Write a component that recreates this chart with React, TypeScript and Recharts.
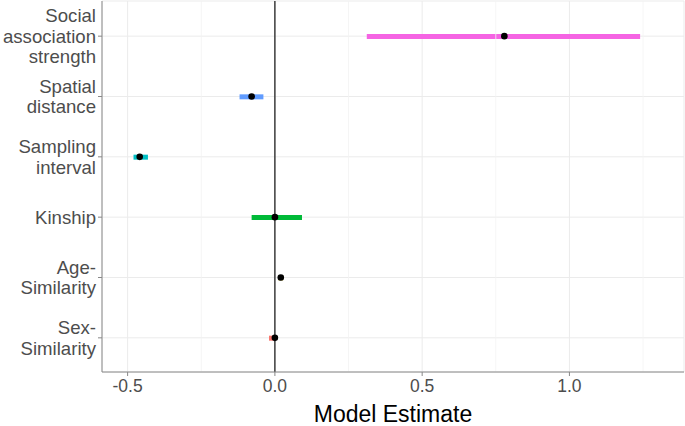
import { ComposedChart, Bar, Line, XAxis, YAxis, CartesianGrid, ReferenceLine, Cell, Label } from "recharts";

const terms = [
  "Social\nassociation\nstrength",
  "Spatial\ndistance",
  "Sampling\ninterval",
  "Kinship",
  "Age-\nSimilarity",
  "Sex-\nSimilarity",
];
const estimates = [0.779, -0.079, -0.459, 0.0, 0.02, 0.0];
const ciLow = [0.312, -0.12, -0.48, -0.079, 0.012, -0.02];
const ciHigh = [1.24, -0.039, -0.431, 0.092, 0.028, 0.004];
const colors = ["#F564E3", "#619CFF", "#00BFC4", "#00BA38", "#B79F00", "#F8766D"];

const xTicks = [-0.5, 0, 0.5, 1.0];
const minorTicks = [-0.25, 0.25, 0.75, 1.25];
const xDomain = [-0.587, 1.389];

const data = terms.map((name, i) => ({ name, est: estimates[i], ci: [ciLow[i], ciHigh[i]] }));

const font = "'Liberation Sans', Arial, sans-serif";

function TermTick(props: any) {
  const { x, y, payload } = props;
  const lines: string[] = String(payload.value).split("\n");
  const lh = 20.5;
  const start = (-(lines.length - 1) * lh) / 2 + 6.6;
  return (
    <text x={x} y={y} textAnchor="end" fill="#4D4D4D" fontSize={18.6} fontFamily={font}>
      {lines.map((l, i) => (
        <tspan key={i} x={x} dy={i === 0 ? start : lh}>
          {l}
        </tspan>
      ))}
    </text>
  );
}

export default function App() {
  return (
    <div style={{ position: "absolute", left: 0, top: 0, background: "#fff" }}>
      <ComposedChart
        width={685}
        height={426}
        data={data}
        layout="vertical"
        margin={{ top: 1, right: 1, bottom: 0, left: 0 }}
      >
        <CartesianGrid stroke="#EBEBEB" strokeWidth={1} />
        {minorTicks.map((t) => (
          <ReferenceLine key={t} x={t} stroke="#F2F2F2" strokeWidth={0.8} />
        ))}
        <XAxis
          type="number"
          dataKey="est"
          domain={xDomain}
          ticks={xTicks}
          allowDataOverflow
          tickFormatter={(v: number) => v.toFixed(1)}
          tick={{ fill: "#4D4D4D", fontSize: 17.5, fontFamily: font }}
          tickSize={4}
          tickMargin={4}
          stroke="#888"
          height={54}
        >
          <Label
            value="Model Estimate"
            position="insideBottom"
            offset={4}
            style={{ fill: "#000", fontSize: 23, fontFamily: font }}
          />
        </XAxis>
        <XAxis
          xAxisId="top"
          type="number"
          orientation="top"
          domain={xDomain}
          allowDataOverflow
          tick={false}
          tickLine={false}
          stroke="#888"
          height={0}
        />
        <YAxis
          type="category"
          dataKey="name"
          width={102}
          padding={{ top: 5, bottom: 4 }}
          tick={<TermTick />}
          tickSize={4}
          tickMargin={2}
          stroke="#888"
          interval={0}
        />
        <YAxis
          yAxisId="right"
          type="category"
          dataKey="name"
          orientation="right"
          tick={false}
          tickLine={false}
          stroke="#888"
          width={0}
        />
        <ReferenceLine x={0} stroke="#222" strokeWidth={1.3} />
        <Bar dataKey="ci" barSize={5} isAnimationActive={false}>
          {data.map((_, i) => (
            <Cell key={i} fill={colors[i]} />
          ))}
        </Bar>
        <Line
          dataKey="est"
          stroke="none"
          dot={{ r: 3.3, fill: "#000", stroke: "none" }}
          activeDot={false}
          isAnimationActive={false}
        />
      </ComposedChart>
    </div>
  );
}
